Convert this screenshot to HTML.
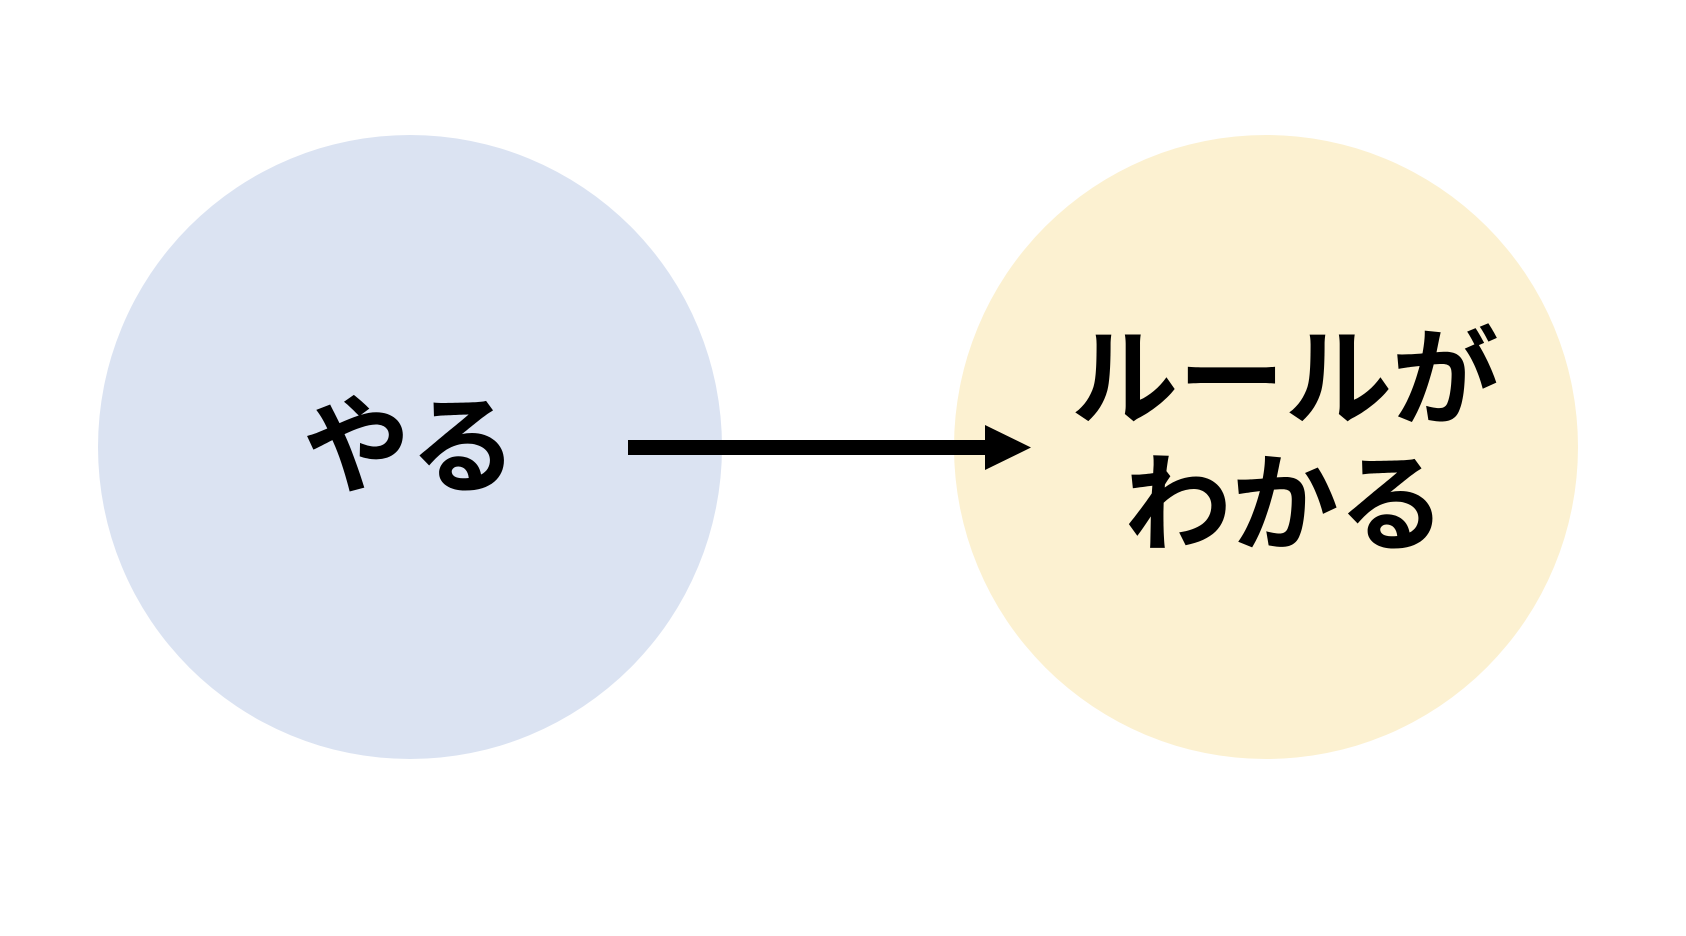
<!DOCTYPE html>
<html><head><meta charset="utf-8"><style>
html,body{margin:0;padding:0;background:#fff;}
body{width:1686px;height:936px;position:relative;overflow:hidden;font-family:"Liberation Sans","Noto Sans CJK JP",sans-serif;font-weight:bold;}
.c{position:absolute;border-radius:50%;width:624px;height:624px;top:135px;}
.t{position:absolute;color:#000;font-size:107px;line-height:126px;text-align:center;white-space:nowrap;}
</style></head><body>
<div class="c" style="left:98px;background:#dbe3f2;"></div>
<div class="c" style="left:954px;background:#fcf1d1;"></div>
<div class="t" style="left:210px;width:400px;top:384px;">やる</div>
<div class="t" style="left:1035px;width:500px;top:316px;">ルールが<br>わかる</div>
<svg style="position:absolute;left:0;top:0" width="1686" height="936">
<rect x="628" y="440" width="360" height="15" fill="#000"/>
<polygon points="985,425 1031,447.5 985,470" fill="#000"/>
</svg>
</body></html>
